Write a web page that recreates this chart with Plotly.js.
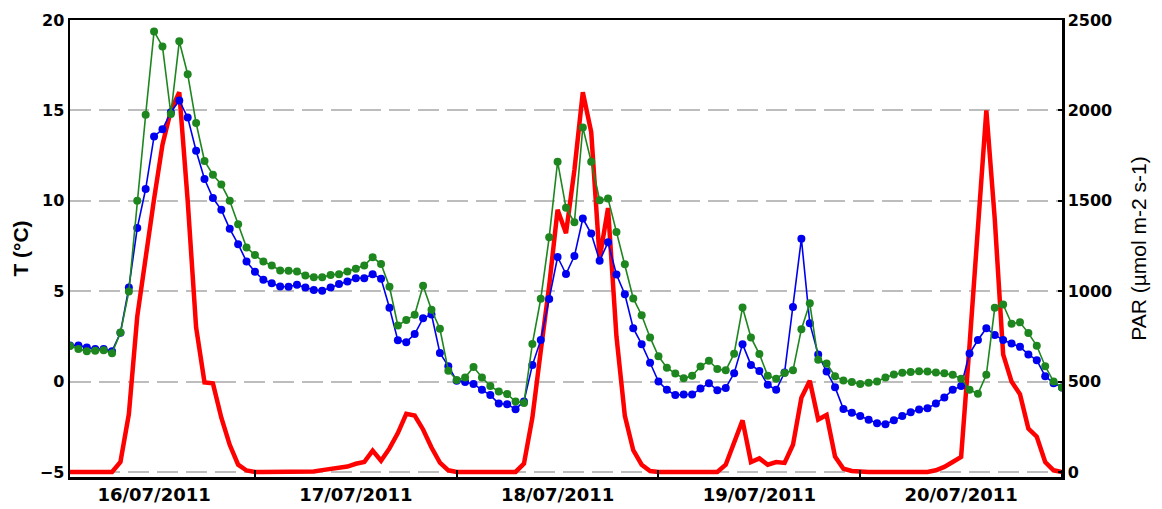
<!DOCTYPE html>
<html>
<head>
<meta charset="utf-8">
<script src="https://cdn.plot.ly/plotly-3.0.1.min.js"></script>
<style>
  html, body { margin: 0; padding: 0; background: #ffffff; }
  #chart { width: 1162px; height: 509px; }
</style>
</head>
<body>
<div id="chart"></div>
<script>
// Hourly sampling: first reading 16/07/2011 02:00, one reading per hour
const startTime = '2011-07-16T02:00:00Z';
const stepHours = 1;

// Temperature series 1 (green), °C
const tempGreen = [
  1.97, 1.8, 1.67, 1.7, 1.73, 1.57, 2.71, 4.98, 10.0, 14.76,
  19.37, 18.54, 14.8, 18.82, 17.0, 14.3, 12.2, 11.44, 10.9, 10.0,
  8.7, 7.42, 7.0, 6.64, 6.42, 6.14, 6.13, 6.09, 5.87, 5.77,
  5.77, 5.9, 5.94, 6.09, 6.24, 6.42, 6.88, 6.5, 5.24, 3.1,
  3.4, 3.69, 5.3, 3.97, 2.92, 0.6, 0.09, 0.22, 0.8, 0.22,
  -0.25, -0.55, -0.69, -1.11, -1.18, 2.08, 4.58, 7.98, 12.16, 9.61,
  8.81, 14.06, 12.16, 10.03, 10.12, 8.27, 6.49, 4.6, 3.67, 2.44,
  1.4, 0.77, 0.44, 0.18, 0.32, 0.83, 1.15, 0.69, 0.62, 1.54,
  4.1, 2.44, 1.52, 0.32, 0.16, 0.47, 0.62, 2.9, 4.33, 1.21,
  1.0, 0.3, 0.06, -0.03, -0.14, -0.06, 0.0, 0.22, 0.39, 0.48,
  0.53, 0.57, 0.55, 0.5, 0.46, 0.37, 0.16, -0.45, -0.68, 0.37,
  4.08, 4.26, 3.2, 3.28, 2.68, 1.98, 0.85, 0.0, -0.33
];

// Temperature series 2 (blue), °C
const tempBlue = [
  2.0, 2.0, 1.88, 1.8, 1.8, 1.68, 2.7, 5.2, 8.49, 10.65,
  13.56, 13.95, 14.9, 15.55, 14.6, 12.77, 11.2, 10.15, 9.5, 8.45,
  7.6, 6.64, 6.07, 5.63, 5.44, 5.26, 5.24, 5.35, 5.2, 5.07,
  5.02, 5.2, 5.39, 5.54, 5.72, 5.72, 5.94, 5.68, 4.08, 2.28,
  2.18, 2.63, 3.5, 3.71, 1.58, 0.85, 0.05, -0.03, -0.13, -0.46,
  -0.75, -1.22, -1.25, -1.53, -1.1, 0.91, 2.3, 4.57, 6.89, 5.95,
  6.94, 9.02, 8.19, 6.68, 7.7, 5.92, 4.83, 2.95, 2.07, 1.04,
  0.0, -0.46, -0.75, -0.72, -0.72, -0.39, -0.09, -0.48, -0.35, 0.46,
  2.07, 0.92, 0.59, -0.18, -0.46, 0.5, 4.13, 7.9, 3.22, 1.5,
  0.55, -0.31, -1.52, -1.72, -1.91, -2.12, -2.3, -2.36, -2.14, -1.9,
  -1.7, -1.55, -1.48, -1.22, -0.88, -0.46, -0.25, 1.55, 2.3, 2.95,
  2.58, 2.3, 2.1, 1.92, 1.5, 1.18, 0.3, -0.09, -0.33
];

// PAR (red), µmol m-2 s-1
const par = [
  0, 0, 0, 0, 0, 0, 55, 320, 860, 1200,
  1510, 1810, 2000, 2100, 1500, 800, 495, 490, 300, 150,
  40, 8, 0, 0, 0, 0, 0, 0, 0, 3,
  10, 15, 20, 30, 45, 55, 118, 62, 130, 215,
  322, 312, 235, 135, 52, 9, 0, 0, 0, 0,
  0, 0, 0, 0, 46, 300, 670, 1030, 1450, 1320,
  1670, 2100, 1880, 1180, 1460, 750, 310, 120, 40, 5,
  0, 0, 0, 0, 0, 0, 0, 0, 40, 160,
  285, 55, 75, 40, 55, 50, 150, 410, 505, 290,
  315, 85, 18, 5, 0, 0, 0, 0, 0, 0,
  0, 0, 0, 9, 28, 55, 83, 700, 1350, 2000,
  1400, 650, 500, 430, 240, 195, 55, 9, 0
];

// Axis labels
const leftTitle = 'T (°C)';
const rightTitle = 'PAR (µmol m-2 s-1)';
const xStart = '2011-07-16 02:00';
const xEnd = '2011-07-21 00:00';

function pad(n) { return (n < 10 ? '0' : '') + n; }
const t0 = Date.parse(startTime);
const times = tempGreen.map(function (_, i) {
  const d = new Date(t0 + i * stepHours * 3600000);
  return d.getUTCFullYear() + '-' + pad(d.getUTCMonth() + 1) + '-' + pad(d.getUTCDate()) +
         ' ' + pad(d.getUTCHours()) + ':00';
});

const traces = [
  {
    x: times, y: par, type: 'scatter', mode: 'lines', yaxis: 'y',
    line: { color: '#ff0000', width: 4.5 }, name: 'PAR'
  },
  {
    x: times, y: tempBlue, type: 'scatter', mode: 'lines+markers', yaxis: 'y2',
    line: { color: '#0000f0', width: 1.6 },
    marker: { color: '#0000f0', size: 8 }, name: 'T2'
  },
  {
    x: times, y: tempGreen, type: 'scatter', mode: 'lines+markers', yaxis: 'y2',
    line: { color: '#1e861e', width: 1.6 },
    marker: { color: '#1e861e', size: 8 }, name: 'T1'
  }
];

const tickFont = { family: 'DejaVu Sans, sans-serif', size: 16, color: '#000', weight: 'bold' };

const layout = {
  width: 1162, height: 509,
  margin: { l: 70, r: 100, t: 20, b: 32, pad: 0 },
  paper_bgcolor: '#ffffff', plot_bgcolor: '#ffffff',
  showlegend: false,
  xaxis: {
    type: 'date',
    range: [xStart, xEnd],
    tick0: '2011-07-16', dtick: 86400000,
    tickformat: '%d/%m/%Y', ticklabelmode: 'period',
    ticks: 'inside', ticklen: 7, tickwidth: 2, tickcolor: '#000',
    showgrid: false, zeroline: false,
    showline: true, linecolor: '#000', linewidth: 2.5, mirror: true,
    tickfont: { family: 'DejaVu Sans, sans-serif', size: 18, color: '#000', weight: 'bold' }
  },
  yaxis: {
    side: 'right',
    range: [-28, 2500],
    tickvals: [0, 500, 1000, 1500, 2000, 2500],
    ticks: 'inside', ticklen: 4, tickwidth: 2, tickcolor: '#000',
    showgrid: true, gridcolor: '#bdbdbd', gridwidth: 2, griddash: '21px,8px',
    zeroline: false,
    showline: true, linecolor: '#000', linewidth: 2.5,
    tickfont: tickFont,
    title: { text: rightTitle, standoff: 20,
             font: { family: 'Liberation Sans, Arial, sans-serif', size: 21, color: '#000' } }
  },
  yaxis2: {
    side: 'left', overlaying: 'y',
    range: [-5.28, 20],
    tickvals: [-5, 0, 5, 10, 15, 20],
    ticks: '', showgrid: false, zeroline: false,
    showline: true, linecolor: '#000', linewidth: 2.5,
    tickfont: tickFont,
    title: { text: leftTitle, standoff: 6,
             font: { family: 'Liberation Sans, Arial, sans-serif', size: 21, color: '#000', weight: 'bold' } }
  }
};

Plotly.newPlot('chart', traces, layout, { staticPlot: true, displayModeBar: false });
</script>
</body>
</html>
